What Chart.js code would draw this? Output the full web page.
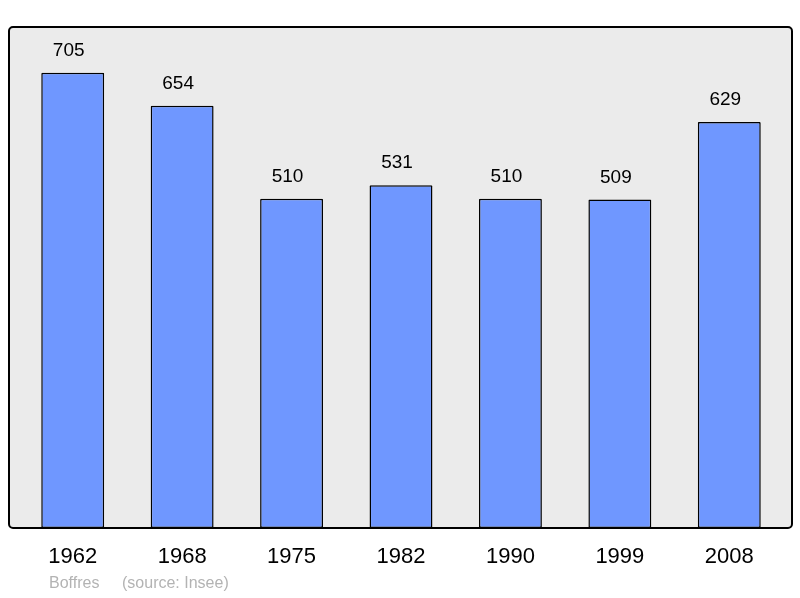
<!DOCTYPE html>
<html><head><meta charset="utf-8">
<script src="https://cdn.jsdelivr.net/npm/chart.js@4"></script>
<style>html,body{margin:0;padding:0;background:#fff}#w{width:800px;height:598px}</style>
</head><body><div id="w"><canvas id="c"></canvas></div>
<script>
const categories = ["1962","1968","1975","1982","1990","1999","2008"];
const population = [705,654,510,531,510,509,629];
const footerName = "Boffres";
const footerSource = "(source: Insee)";

const deco = {
  id:'deco',
  beforeDraw(chart){
    const ctx=chart.ctx, a=chart.chartArea;
    const x0=9,x1=792,y0=a.top,y1=a.bottom;
    ctx.save();
    ctx.beginPath();
    ctx.roundRect(x0,y0,x1-x0,y1-y0,4);
    ctx.fillStyle='#ebebeb';ctx.fill();
    ctx.lineWidth=2;ctx.strokeStyle='#000';ctx.stroke();
    ctx.restore();
  },
  afterDraw(chart){
    const ctx=chart.ctx, xs=chart.scales.x, ys=chart.scales.y;
    ctx.save();
    ctx.fillStyle='#000';ctx.textAlign='center';ctx.textBaseline='middle';
    ctx.font='19px "Liberation Sans", Arial, sans-serif';
    population.forEach((v,i)=>{
      ctx.fillText(String(v), xs.getPixelForValue(i)-4, ys.getPixelForValue(v)-22);
    });
    ctx.font='22px "Liberation Sans", Arial, sans-serif';
    categories.forEach((c,i)=>{
      ctx.fillText(c, xs.getPixelForValue(i), 557);
    });
    ctx.fillStyle='#b3b3b3';ctx.textAlign='left';
    ctx.font='16px "Liberation Sans", Arial, sans-serif';
    ctx.fillText(footerName, 49, 584);
    ctx.fillText(footerSource, 122, 584);
    ctx.restore();
  }
};

new Chart(document.getElementById('c'),{
  type:'bar',
  data:{labels:categories,datasets:[{data:population,backgroundColor:'#6f97ff',borderColor:'#000',borderWidth:1.5,borderSkipped:false,borderRadius:1,barPercentage:0.575,categoryPercentage:1}]},
  options:{
    responsive:true,maintainAspectRatio:false,animation:false,
    layout:{padding:{left:18,right:16,top:27,bottom:70}},
    plugins:{legend:{display:false},tooltip:{enabled:false}},
    scales:{
      x:{display:false},
      y:{display:false,min:0,max:776}
    }
  },
  plugins:[deco]
});
</script></body></html>
